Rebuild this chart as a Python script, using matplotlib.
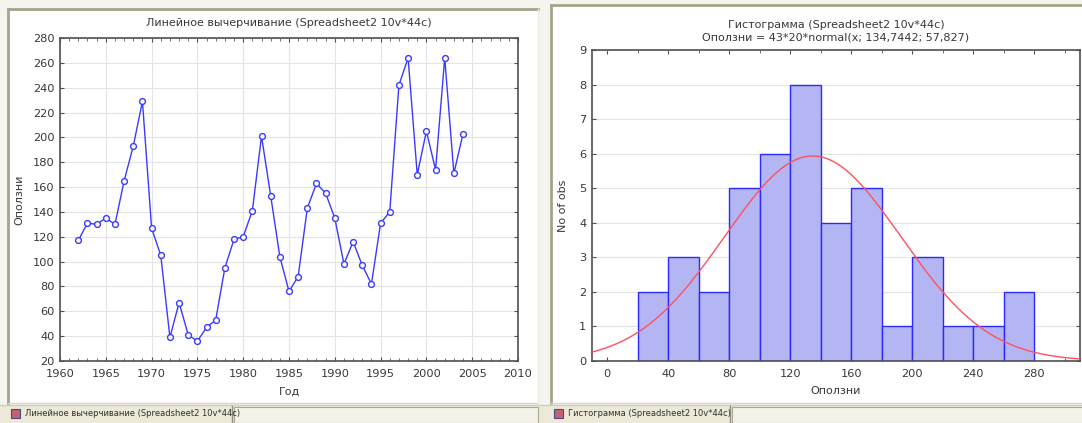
import numpy as np
import matplotlib
matplotlib.use("Agg")
import matplotlib.pyplot as plt
from matplotlib.patches import Rectangle
from matplotlib.ticker import MultipleLocator

# landslides per year
years = list(range(1962, 2005))
slides = [117, 131, 130, 135, 130, 165, 193, 229, 127, 105,
          39, 67, 41, 36, 47, 53, 95, 118, 120, 141,
          201, 153, 104, 76, 88, 143, 163, 155, 135, 98,
          116, 97, 82, 131, 140, 242, 264, 170, 205, 174,
          264, 171, 203]

# histogram (bin width 20, from 20 to 280)
bin_edges = list(range(20, 281, 20))
bin_counts = [2, 3, 2, 5, 6, 8, 4, 5, 1, 3, 1, 1, 2]
fit_mean = 134.7442
fit_sd = 57.827

W, H = 1082, 423
fig = plt.figure(figsize=(W / 100, H / 100), dpi=100)
fig.patch.set_facecolor("#f6f4ef")

# background layer in pixel coords
bg = fig.add_axes([0, 0, 1, 1], zorder=-10)
bg.set_xlim(0, W)
bg.set_ylim(H, 0)
bg.axis("off")

def win(x0, y0, x1, y1):
    bg.add_patch(Rectangle((x0, y0), x1 - x0, y1 - y0, facecolor="white",
                           edgecolor="none"))
    bg.plot([x0, x0], [y0, y1], color="#a5a48c", lw=2)
    bg.plot([x0, x1], [y0, y0], color="#a5a48c", lw=2)
    bg.plot([x0, x1], [y1, y1], color="#d8d6c8", lw=1)
    bg.plot([x1, x1], [y0, y1], color="#f0eee0", lw=1)

win(8, 9, 538, 403)
win(551, 5, 1090, 403)

# tab strip
bg.add_patch(Rectangle((0, 405), W, 18, facecolor="#ece9d8", edgecolor="none"))
bg.plot([0, W], [405, 405], color="#d0cdbc", lw=1)

def tab(x0, x1, x2, label):
    bg.add_patch(Rectangle((x0 + 3, 409), 9, 9, facecolor="#c86070", edgecolor="#405080", lw=0.8))
    bg.text(x0 + 17, 414, label, fontsize=6.0, color="#303030", va="center", ha="left")
    bg.plot([x1, x1], [406, 423], color="#8f8d7c", lw=1)
    bg.add_patch(Rectangle((x1 + 2, 407), x2 - x1 - 4, 16, facecolor="#f4f2e8",
                           edgecolor="#aaa898", lw=0.8))

tab(8, 232, 540, "Линейное вычерчивание (Spreadsheet2 10v*44c)")
tab(551, 730, 1090, "Гистограмма (Spreadsheet2 10v*44c)")

def px_axes(x0, y0, x1, y1):
    return fig.add_axes([x0 / W, 1 - y1 / H, (x1 - x0) / W, (y1 - y0) / H])

txt = "#383838"
fs = 8.0

def style(ax):
    for s in ax.spines.values():
        s.set_color("#505050")
        s.set_linewidth(1.2)
    ax.tick_params(which="both", direction="in", top=True, right=True,
                   colors="#505050", labelcolor=txt, labelsize=8.2, length=3, pad=4)
    ax.tick_params(axis="x", pad=6)
    ax.tick_params(which="minor", length=2)
    ax.set_facecolor("white")

# left: line chart
ax1 = px_axes(60, 38, 518, 361)
ax1.plot(years, slides, color="#3a3aff", lw=1, marker="o", ms=4.2,
         mfc="white", mec="#3a3aff", mew=1)
ax1.set_xlim(1960, 2010)
ax1.set_ylim(20, 280)
ax1.xaxis.set_major_locator(MultipleLocator(5))
ax1.xaxis.set_minor_locator(MultipleLocator(1))
ax1.yaxis.set_major_locator(MultipleLocator(20))
ax1.grid(True, color="#e4e4e4", lw=0.8)
ax1.set_axisbelow(True)
style(ax1)
ax1.set_title("Линейное вычерчивание (Spreadsheet2 10v*44c)", fontsize=fs,
              color=txt, pad=9)
ax1.set_xlabel("Год", fontsize=fs, color=txt, labelpad=5)
ax1.set_ylabel("Оползни", fontsize=fs, color=txt, labelpad=6)

# right: histogram with normal fit
ax2 = px_axes(592, 50, 1080, 361)
ax2.bar(bin_edges[:-1], bin_counts, width=20, align="edge",
        facecolor="#b4b6f4", edgecolor="#2a2aff", lw=1, zorder=2)
xs = np.linspace(-10, 310, 400)
pdf = len(slides) * 20 * np.exp(-0.5 * ((xs - fit_mean) / fit_sd) ** 2) / (fit_sd * np.sqrt(2 * np.pi))
ax2.plot(xs, pdf, color="#ff5060", lw=1, zorder=3)
ax2.set_xlim(-10, 310)
ax2.set_ylim(0, 9)
ax2.xaxis.set_major_locator(MultipleLocator(40))
ax2.xaxis.set_minor_locator(MultipleLocator(20))
ax2.yaxis.set_major_locator(MultipleLocator(1))
ax2.grid(True, axis="y", color="#e4e4e4", lw=0.8)
ax2.set_axisbelow(True)
style(ax2)
ax2.set_title("Гистограмма (Spreadsheet2 10v*44c)\nОползни = 43*20*normal(x; 134,7442; 57,827)",
              fontsize=fs, color=txt, pad=7, linespacing=1.3)
ax2.set_xlabel("Оползни", fontsize=fs, color=txt, labelpad=5)
ax2.set_ylabel("No of obs", fontsize=fs, color=txt, labelpad=8)

fig.savefig("out.png", dpi=100, facecolor=fig.get_facecolor())
